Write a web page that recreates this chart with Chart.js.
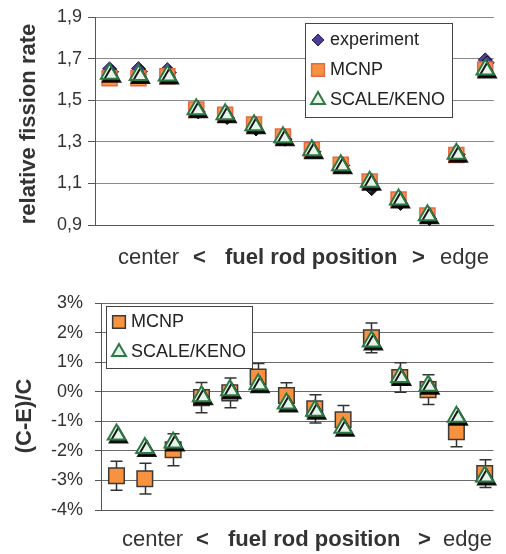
<!DOCTYPE html>
<html>
<head>
<meta charset="utf-8">
<script src="https://cdn.jsdelivr.net/npm/chart.js@4.4.1/dist/chart.umd.min.js"></script>
<style>
  body { margin: 0; width: 506px; height: 554px; overflow: hidden; background: #fff; position: relative;
         font-family: "Liberation Sans", Arial, sans-serif; color: #333; }
  canvas { position: absolute; left: 0; }
  #rateChart { top: 0; }
  #diffChart { top: 277px; }
  .ytitle { position: absolute; font-size: 22px; font-weight: bold; line-height: 1; white-space: nowrap;
            transform: translate(-50%, -50%) rotate(-90deg); }
  .xpart { position: absolute; font-size: 22px; line-height: 1; white-space: nowrap; }
  .b { font-weight: bold; }
</style>
</head>
<body>
<canvas id="rateChart" width="506" height="277"></canvas>
<canvas id="diffChart" width="506" height="277"></canvas>

<div class="ytitle" style="left:28px; top:124px;">relative fission rate</div>
<div class="ytitle" style="left:24px; top:416px;">(C-E)/C</div>

<div class="xpart" style="left:118px; top:246px;">center</div>
<div class="xpart b" style="left:193px; top:246px;">&lt;</div>
<div class="xpart b" style="left:225px; top:246px;">fuel rod position</div>
<div class="xpart b" style="left:412px; top:246px;">&gt;</div>
<div class="xpart" style="left:440px; top:246px;">edge</div>

<div class="xpart" style="left:122px; top:528px;">center</div>
<div class="xpart b" style="left:196px; top:528px;">&lt;</div>
<div class="xpart b" style="left:228px; top:528px;">fuel rod position</div>
<div class="xpart b" style="left:418px; top:528px;">&gt;</div>
<div class="xpart" style="left:443px; top:528px;">edge</div>

<script>
// fuel rod positions, center -> edge
const rods = [1, 2, 3, 4, 5, 6, 7, 8, 9, 10, 11, 12, 13, 14];

// relative fission rate
const experimentRate = [1.651, 1.652, 1.647, 1.458, 1.431, 1.376, 1.327, 1.267, 1.201, 1.089, 1.018, 0.945, 1.254, 1.694];
const mcnpRate = [1.605, 1.605, 1.615, 1.455, 1.430, 1.383, 1.325, 1.260, 1.190, 1.109, 1.023, 0.946, 1.237, 1.648];
const scaleRate = [1.627, 1.621, 1.619, 1.456, 1.432, 1.379, 1.322, 1.259, 1.187, 1.108, 1.023, 0.947, 1.243, 1.647];
const rateTicks = [0.9, 1.1, 1.3, 1.5, 1.7, 1.9];

// (C-E)/C in %
const mcnpDiff = [-2.84, -2.94, -1.96, -0.20, -0.04, 0.50, -0.13, -0.58, -0.95, 1.82, 0.48, 0.07, -1.35, -2.77];
const mcnpErr = [0.49, 0.52, 0.54, 0.51, 0.50, 0.45, 0.43, 0.48, 0.48, 0.50, 0.50, 0.50, 0.51, 0.47];
const scaleDiff = [-1.45, -1.90, -1.72, -0.15, 0.05, 0.25, -0.40, -0.64, -1.22, 1.70, 0.50, 0.20, -0.85, -2.87];
const diffTicks = [-4, -3, -2, -1, 0, 1, 2, 3];

const FONT = '"Liberation Sans", Arial, sans-serif';

function points(values) {
  return rods.map((r, i) => ({ x: r, y: values[i] }));
}

// dark offset shadow under markers (like the original spreadsheet export)
const markerShadow = {
  id: 'markerShadow',
  beforeDatasetDraw(chart, args) {
    if (!chart.data.datasets[args.index].shadow) return;
    const ctx = chart.ctx;
    ctx.save();
    ctx.shadowColor = 'rgba(0,0,0,0.9)';
    ctx.shadowOffsetX = 2;
    ctx.shadowOffsetY = 3;
    ctx.shadowBlur = 0;
  },
  afterDatasetDraw(chart, args) {
    if (chart.data.datasets[args.index].shadow) chart.ctx.restore();
  }
};

const errorBars = {
  id: 'errorBars',
  beforeDatasetsDraw(chart, args, opts) {
    if (!opts.values) return;
    const { ctx, scales: { x, y } } = chart;
    ctx.save();
    ctx.strokeStyle = '#333';
    ctx.lineWidth = 1.5;
    opts.values.forEach((v, i) => {
      const px = Math.round(x.getPixelForValue(rods[i])) + 0.5;
      const top = y.getPixelForValue(v + opts.err[i]);
      const bot = y.getPixelForValue(v - opts.err[i]);
      ctx.beginPath();
      ctx.moveTo(px, top); ctx.lineTo(px, bot);
      ctx.moveTo(px - 6, top); ctx.lineTo(px + 6, top);
      ctx.moveTo(px - 6, bot); ctx.lineTo(px + 6, bot);
      ctx.stroke();
    });
    ctx.restore();
  }
};

const boxLegend = {
  id: 'boxLegend',
  afterDraw(chart, args, opts) {
    const ctx = chart.ctx;
    ctx.save();
    ctx.fillStyle = '#fff';
    ctx.fillRect(opts.x, opts.y, opts.w, opts.h);
    ctx.strokeStyle = '#444';
    ctx.lineWidth = 1;
    ctx.strokeRect(opts.x + 0.5, opts.y + 0.5, opts.w, opts.h);
    ctx.font = '18px ' + FONT;
    ctx.textBaseline = 'middle';
    opts.order.forEach((di, row) => {
      const ds = chart.data.datasets[di];
      const cy = opts.y + opts.firstRow + row * opts.rowGap;
      ctx.fillStyle = ds.backgroundColor;
      ctx.strokeStyle = ds.borderColor;
      ctx.lineWidth = ds.borderWidth;
      Chart.helpers.drawPoint(ctx, { pointStyle: ds.pointStyle, radius: ds.legendRadius, rotation: 0, borderWidth: ds.borderWidth }, opts.markerX, cy);
      ctx.fillStyle = '#222';
      ctx.fillText(ds.label, opts.textX, cy);
    });
    ctx.restore();
  }
};

function yScale(width, ticks, fmt, gridColor, tickLength, padding) {
  return {
    min: ticks[0],
    max: ticks[ticks.length - 1],
    afterFit: (axis) => { axis.width = width; },
    afterBuildTicks: (axis) => { axis.ticks = ticks.map(v => ({ value: v })); },
    border: { color: '#555', width: 1 },
    grid: {
      color: (c) => c.index === 0 ? '#555' : gridColor,
      tickColor: '#555',
      tickLength: tickLength
    },
    ticks: {
      padding: padding,
      color: '#333',
      font: { family: FONT, size: 18 },
      callback: fmt
    }
  };
}

new Chart(document.getElementById('rateChart'), {
  type: 'scatter',
  data: {
    datasets: [
      {
        label: 'experiment', data: points(experimentRate), order: 3, shadow: true,
        pointStyle: 'rectRot', pointRadius: 7, legendRadius: 6,
        backgroundColor: '#4a3d93', borderColor: '#2c2266', borderWidth: 1
      },
      {
        label: 'MCNP', data: points(mcnpRate), order: 2,
        pointStyle: 'rect', pointRadius: 10.6, legendRadius: 9,
        backgroundColor: '#f8923f', borderColor: '#e4694a', borderWidth: 1.5
      },
      {
        label: 'SCALE/KENO', data: points(scaleRate), order: 1, shadow: true,
        pointStyle: 'triangle', pointRadius: 10, legendRadius: 8,
        backgroundColor: '#e6f4ea', borderColor: '#2e7a46', borderWidth: 2
      }
    ]
  },
  options: {
    responsive: false,
    animation: false,
    clip: false,
    layout: { padding: { top: 17, bottom: 52, left: 0, right: 0 } },
    scales: {
      x: { type: 'linear', display: false, min: 0.496, max: 14.30 },
      y: yScale(95, rateTicks, (v) => v.toFixed(1).replace('.', ','), '#8a8a8a', 7, 6)
    },
    plugins: {
      legend: { display: false },
      tooltip: { enabled: false },
      boxLegend: { x: 305, y: 23, w: 147, h: 94, markerX: 318, textX: 330, firstRow: 17, rowGap: 30, order: [0, 1, 2] }
    }
  },
  plugins: [markerShadow, boxLegend]
});

new Chart(document.getElementById('diffChart'), {
  type: 'scatter',
  data: {
    datasets: [
      {
        label: 'MCNP', data: points(mcnpDiff), order: 2,
        pointStyle: 'rect', pointRadius: 11, legendRadius: 9,
        backgroundColor: '#f8923f', borderColor: '#3a3a3a', borderWidth: 1.5
      },
      {
        label: 'SCALE/KENO', data: points(scaleDiff), order: 1, shadow: true,
        pointStyle: 'triangle', pointRadius: 10, legendRadius: 8,
        backgroundColor: '#e6f4ea', borderColor: '#2e7a46', borderWidth: 2
      }
    ]
  },
  options: {
    responsive: false,
    animation: false,
    clip: false,
    layout: { padding: { top: 26, bottom: 44, left: 0, right: 0 } },
    scales: {
      x: { type: 'linear', display: false, min: 0.453, max: 14.31 },
      y: yScale(101, diffTicks, (v) => v + '%', '#6a6a6a', 6, 12)
    },
    plugins: {
      legend: { display: false },
      tooltip: { enabled: false },
      errorBars: { values: mcnpDiff, err: mcnpErr },
      boxLegend: { x: 106, y: 29, w: 146, h: 62, markerX: 119, textX: 131, firstRow: 16, rowGap: 30, order: [0, 1] }
    }
  },
  plugins: [errorBars, markerShadow, boxLegend]
});
</script>
</body>
</html>
